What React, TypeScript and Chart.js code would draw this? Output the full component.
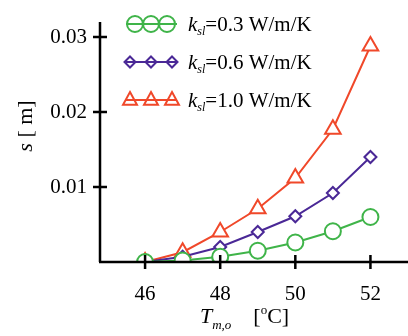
import React, { useEffect, useRef } from "react";
import { Chart, registerables } from "chart.js";

Chart.register(...registerables);

const temps = [46, 47, 48, 49, 50, 51, 52];
const s03 = [0, 0.0002, 0.0007, 0.0015, 0.0026, 0.0041, 0.006];
const s06 = [0, 0.0007, 0.002, 0.004, 0.0061, 0.0092, 0.014];
const s10 = [0, 0.0013, 0.004, 0.0071, 0.0112, 0.0177, 0.0288];
const xTicks = [46, 48, 50, 52];
const yTicks = [0, 0.01, 0.02, 0.03];
const legendValues = ["0.3", "0.6", "1.0"];

const GREEN = "#3fb449";
const PURPLE = "#4a2896";
const RED = "#f0482a";
const SERIF = "'Liberation Serif', 'DejaVu Serif', serif";

type Run = { t: string; f: string; dy?: number };

function drawRuns(ctx: CanvasRenderingContext2D, x: number, y: number, runs: Run[]) {
  let cx = x;
  for (const r of runs) {
    ctx.font = r.f;
    ctx.fillText(r.t, cx, y + (r.dy || 0));
    cx += ctx.measureText(r.t).width;
  }
  return cx;
}
function runsWidth(ctx: CanvasRenderingContext2D, runs: Run[]) {
  let w = 0;
  for (const r of runs) {
    ctx.font = r.f;
    w += ctx.measureText(r.t).width;
  }
  return w;
}

function marker(ctx: CanvasRenderingContext2D, kind: string, x: number, y: number, color: string) {
  ctx.save();
  ctx.strokeStyle = color;
  ctx.lineWidth = 2;
  ctx.beginPath();
  if (kind === "circle") {
    ctx.arc(x, y, 8, 0, Math.PI * 2);
  } else if (kind === "diamond") {
    const r = 5.5;
    ctx.moveTo(x, y - r);
    ctx.lineTo(x + r, y);
    ctx.lineTo(x, y + r);
    ctx.lineTo(x - r, y);
    ctx.closePath();
  } else {
    const r = 8;
    ctx.moveTo(x, y - r);
    ctx.lineTo(x + r * 0.87, y + r * 0.6);
    ctx.lineTo(x - r * 0.87, y + r * 0.6);
    ctx.closePath();
  }
  ctx.stroke();
  ctx.restore();
}

const overlay = {
  id: "overlay",
  afterDatasetsDraw(chart: any) {
    const ctx: CanvasRenderingContext2D = chart.ctx;
    const { left, right, top, bottom } = chart.chartArea;
    const xs = chart.scales.x;
    const ys = chart.scales.y;
    ctx.save();
    ctx.strokeStyle = "#000";
    ctx.lineWidth = 2.5;
    ctx.beginPath();
    ctx.moveTo(left, top);
    ctx.lineTo(left, bottom);
    ctx.moveTo(left - 1, bottom);
    ctx.lineTo(right, bottom);
    for (const v of yTicks) {
      if (v === 0) continue;
      const py = ys.getPixelForValue(v);
      ctx.moveTo(left - 7, py);
      ctx.lineTo(left + 7, py);
    }
    for (const v of xTicks) {
      const px = xs.getPixelForValue(v);
      ctx.moveTo(px, bottom - 7);
      ctx.lineTo(px, bottom + 7);
    }
    ctx.stroke();

    // legend
    const kinds = ["circle", "diamond", "triangle"];
    const colors = [GREEN, PURPLE, RED];
    const rowY = [top + 2, top + 40, top + 78];
    ctx.textBaseline = "alphabetic";
    for (let i = 0; i < 3; i++) {
      const y = rowY[i];
      ctx.strokeStyle = colors[i];
      ctx.lineWidth = 2;
      ctx.beginPath();
      ctx.moveTo(left + 26, y);
      ctx.lineTo(left + 77, y);
      ctx.stroke();
      const mx = kinds[i] === "circle" ? [35, 51, 67] : [30, 51, 72];
      for (const m of mx) marker(ctx, kinds[i], left + m, y, colors[i]);
      ctx.fillStyle = "#000";
      drawRuns(ctx, left + 88, y + 7, [
        { t: "k", f: `italic 21px ${SERIF}` },
        { t: "sl", f: `italic 12px ${SERIF}`, dy: 4 },
        { t: "=" + legendValues[i] + " W/m/K", f: `21px ${SERIF}` },
      ]);
    }

    // x title
    ctx.fillStyle = "#000";
    const xr: Run[] = [
      { t: "T", f: `italic 22px ${SERIF}` },
      { t: "m,o", f: `italic 13px ${SERIF}`, dy: 6 },
      { t: "    [", f: `22px ${SERIF}` },
      { t: "o", f: `13px ${SERIF}`, dy: -9 },
      { t: "C]", f: `22px ${SERIF}` },
    ];
    drawRuns(ctx, 200, 323, xr);

    // y title
    const yr: Run[] = [
      { t: "s", f: `italic 22px ${SERIF}` },
      { t: " [ m]", f: `22px ${SERIF}` },
    ];
    ctx.translate(32, 126);
    ctx.rotate(-Math.PI / 2);
    const w = runsWidth(ctx, yr);
    drawRuns(ctx, -w / 2, 0, yr);
    ctx.restore();
  },
};

export default function App() {
  const ref = useRef<HTMLCanvasElement | null>(null);
  useEffect(() => {
    if (!ref.current) return;
    const mk = (vals: number[]) => temps.map((t, i) => ({ x: t, y: vals[i] }));
    const chart = new Chart(ref.current, {
      type: "line",
      data: {
        datasets: [
          {
            label: "0.3",
            data: mk(s03),
            borderColor: GREEN,
            backgroundColor: "#fff",
            borderWidth: 2,
            pointStyle: "circle",
            pointRadius: 8,
            pointBorderWidth: 2,
          },
          {
            label: "0.6",
            data: mk(s06),
            borderColor: PURPLE,
            backgroundColor: "#fff",
            borderWidth: 2,
            pointStyle: "rectRot",
            pointRadius: 6,
            pointBorderWidth: 2,
          },
          {
            label: "1.0",
            data: mk(s10),
            borderColor: RED,
            backgroundColor: "#fff",
            borderWidth: 2,
            pointStyle: "triangle",
            pointRadius: 9,
            pointBorderWidth: 2,
          },
        ],
      },
      options: {
        animation: false,
        responsive: false,
        layout: { autoPadding: false, padding: { top: 22, right: 0, left: 0, bottom: 0 } },
        plugins: { legend: { display: false }, tooltip: { enabled: false } },
        scales: {
          x: {
            type: "linear",
            min: 44.8,
            max: 53,
            afterBuildTicks: (s: any) => {
              s.ticks = xTicks.map((v) => ({ value: v }));
            },
            afterFit: (s: any) => {
              s.height = 74;
              s.paddingRight = 0;
              s.paddingLeft = 0;
            },
            grid: { display: false, drawTicks: false },
            border: { display: false },
            ticks: {
              color: "#000",
              font: { family: SERIF, size: 21 },
              padding: 20,
              maxRotation: 0,
              callback: (v: any) => String(v),
            },
          },
          y: {
            type: "linear",
            min: 0,
            max: 0.032,
            afterBuildTicks: (s: any) => {
              s.ticks = yTicks.map((v) => ({ value: v }));
            },
            afterFit: (s: any) => {
              s.width = 100;
              s.paddingTop = 0;
              s.paddingBottom = 0;
            },
            grid: { display: false, drawTicks: false },
            border: { display: false },
            ticks: {
              color: "#000",
              font: { family: SERIF, size: 21 },
              padding: 13,
              callback: (v: any) => (v === 0 ? "" : Number(v).toFixed(2)),
            },
          },
        },
      },
      plugins: [overlay],
    });
    return () => chart.destroy();
  }, []);
  return (
    <div style={{ position: "fixed", left: 0, top: 0, width: 408, height: 336, background: "#fff" }}>
      <canvas ref={ref} width={408} height={336} style={{ width: 408, height: 336 }} />
    </div>
  );
}
